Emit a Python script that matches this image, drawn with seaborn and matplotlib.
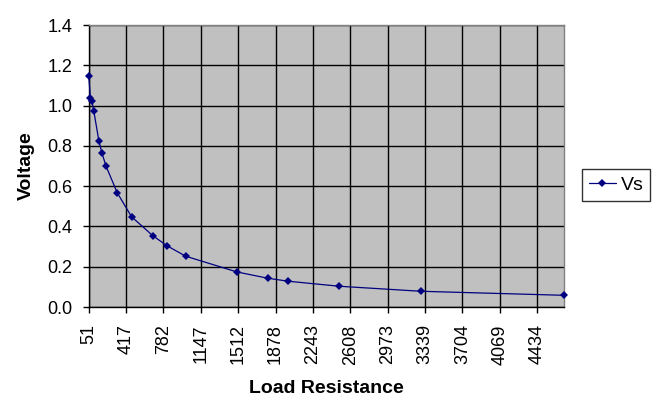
import matplotlib
matplotlib.use("Agg")
import matplotlib.pyplot as plt
import seaborn as sns
import pandas as pd
from matplotlib.ticker import FormatStrFormatter

# Data
resistance = [51, 68, 82, 100, 150, 180, 220, 330, 470, 680, 820, 1000,
              1500, 1800, 2000, 2500, 3300, 4700]
voltage = [1.148, 1.036, 1.023, 0.975, 0.826, 0.765, 0.700, 0.567, 0.448,
           0.353, 0.303, 0.252, 0.174, 0.143, 0.128, 0.103, 0.078, 0.058]
x_ticks = [51, 417, 782, 1147, 1512, 1878, 2243, 2608, 2973, 3339, 3704,
           4069, 4434]
y_ticks = [0.0, 0.2, 0.4, 0.6, 0.8, 1.0, 1.2, 1.4]
series_name = "Vs"

df = pd.DataFrame({"Load Resistance": resistance, "Voltage": voltage})

sns.set_theme(style="white")
plt.rcParams["font.family"] = ["Liberation Sans", "DejaVu Sans"]
plt.rcParams["text.color"] = "black"
plt.rcParams["axes.labelcolor"] = "black"
plt.rcParams["xtick.color"] = "black"
plt.rcParams["ytick.color"] = "black"

fig = plt.figure(figsize=(6.63, 4.07), dpi=100)
ax = fig.add_axes([88.7 / 663, 1 - 307 / 407, (564.3 - 88.7) / 663, (307 - 25) / 407])
ax.set_facecolor("#C0C0C0")

sns.lineplot(data=df, x="Load Resistance", y="Voltage", ax=ax, color="#000080",
             marker="D", markersize=4, markeredgewidth=0, linewidth=0.9,
             label=series_name, sort=False, clip_on=False, zorder=5)

ax.set_xlim(51, 4700)
ax.set_ylim(0, 1.4)
ax.set_xticks(x_ticks)
ax.set_xticklabels([str(t) for t in x_ticks], rotation=90)
ax.set_yticks(y_ticks)
ax.yaxis.set_major_formatter(FormatStrFormatter("%.1f"))

ax.grid(True, color="black", linewidth=1.0)
ax.set_axisbelow(True)

for side in ["left", "bottom"]:
    ax.spines[side].set_color("black")
    ax.spines[side].set_linewidth(1.0)
for side in ["right", "top"]:
    ax.spines[side].set_color("#808080")
    ax.spines[side].set_linewidth(1.0)

ax.tick_params(axis="both", which="major", direction="out", length=4.5,
               width=1.0, color="black", labelsize=13, labelcolor="black",
               bottom=True, left=True)
ax.tick_params(axis="y", pad=7)
ax.tick_params(axis="x", pad=8)

ax.set_xlabel("Load Resistance", fontsize=14, fontweight="bold", labelpad=11,
              color="black")
ax.set_ylabel("Voltage", fontsize=14, fontweight="bold", labelpad=9,
              color="black")

leg = ax.legend(loc="center left", bbox_to_anchor=(581.7 / 663, 1 - 185 / 407),
                bbox_transform=fig.transFigure, frameon=True, fancybox=False,
                fontsize=14, handlelength=1.4, handletextpad=0.25,
                borderpad=0.35, borderaxespad=0)
leg.get_frame().set_edgecolor("black")
leg.get_frame().set_linewidth(1.0)
leg.get_frame().set_facecolor("white")
for t in leg.get_texts():
    t.set_color("black")

fig.savefig("out.png", dpi=100, facecolor="white")
